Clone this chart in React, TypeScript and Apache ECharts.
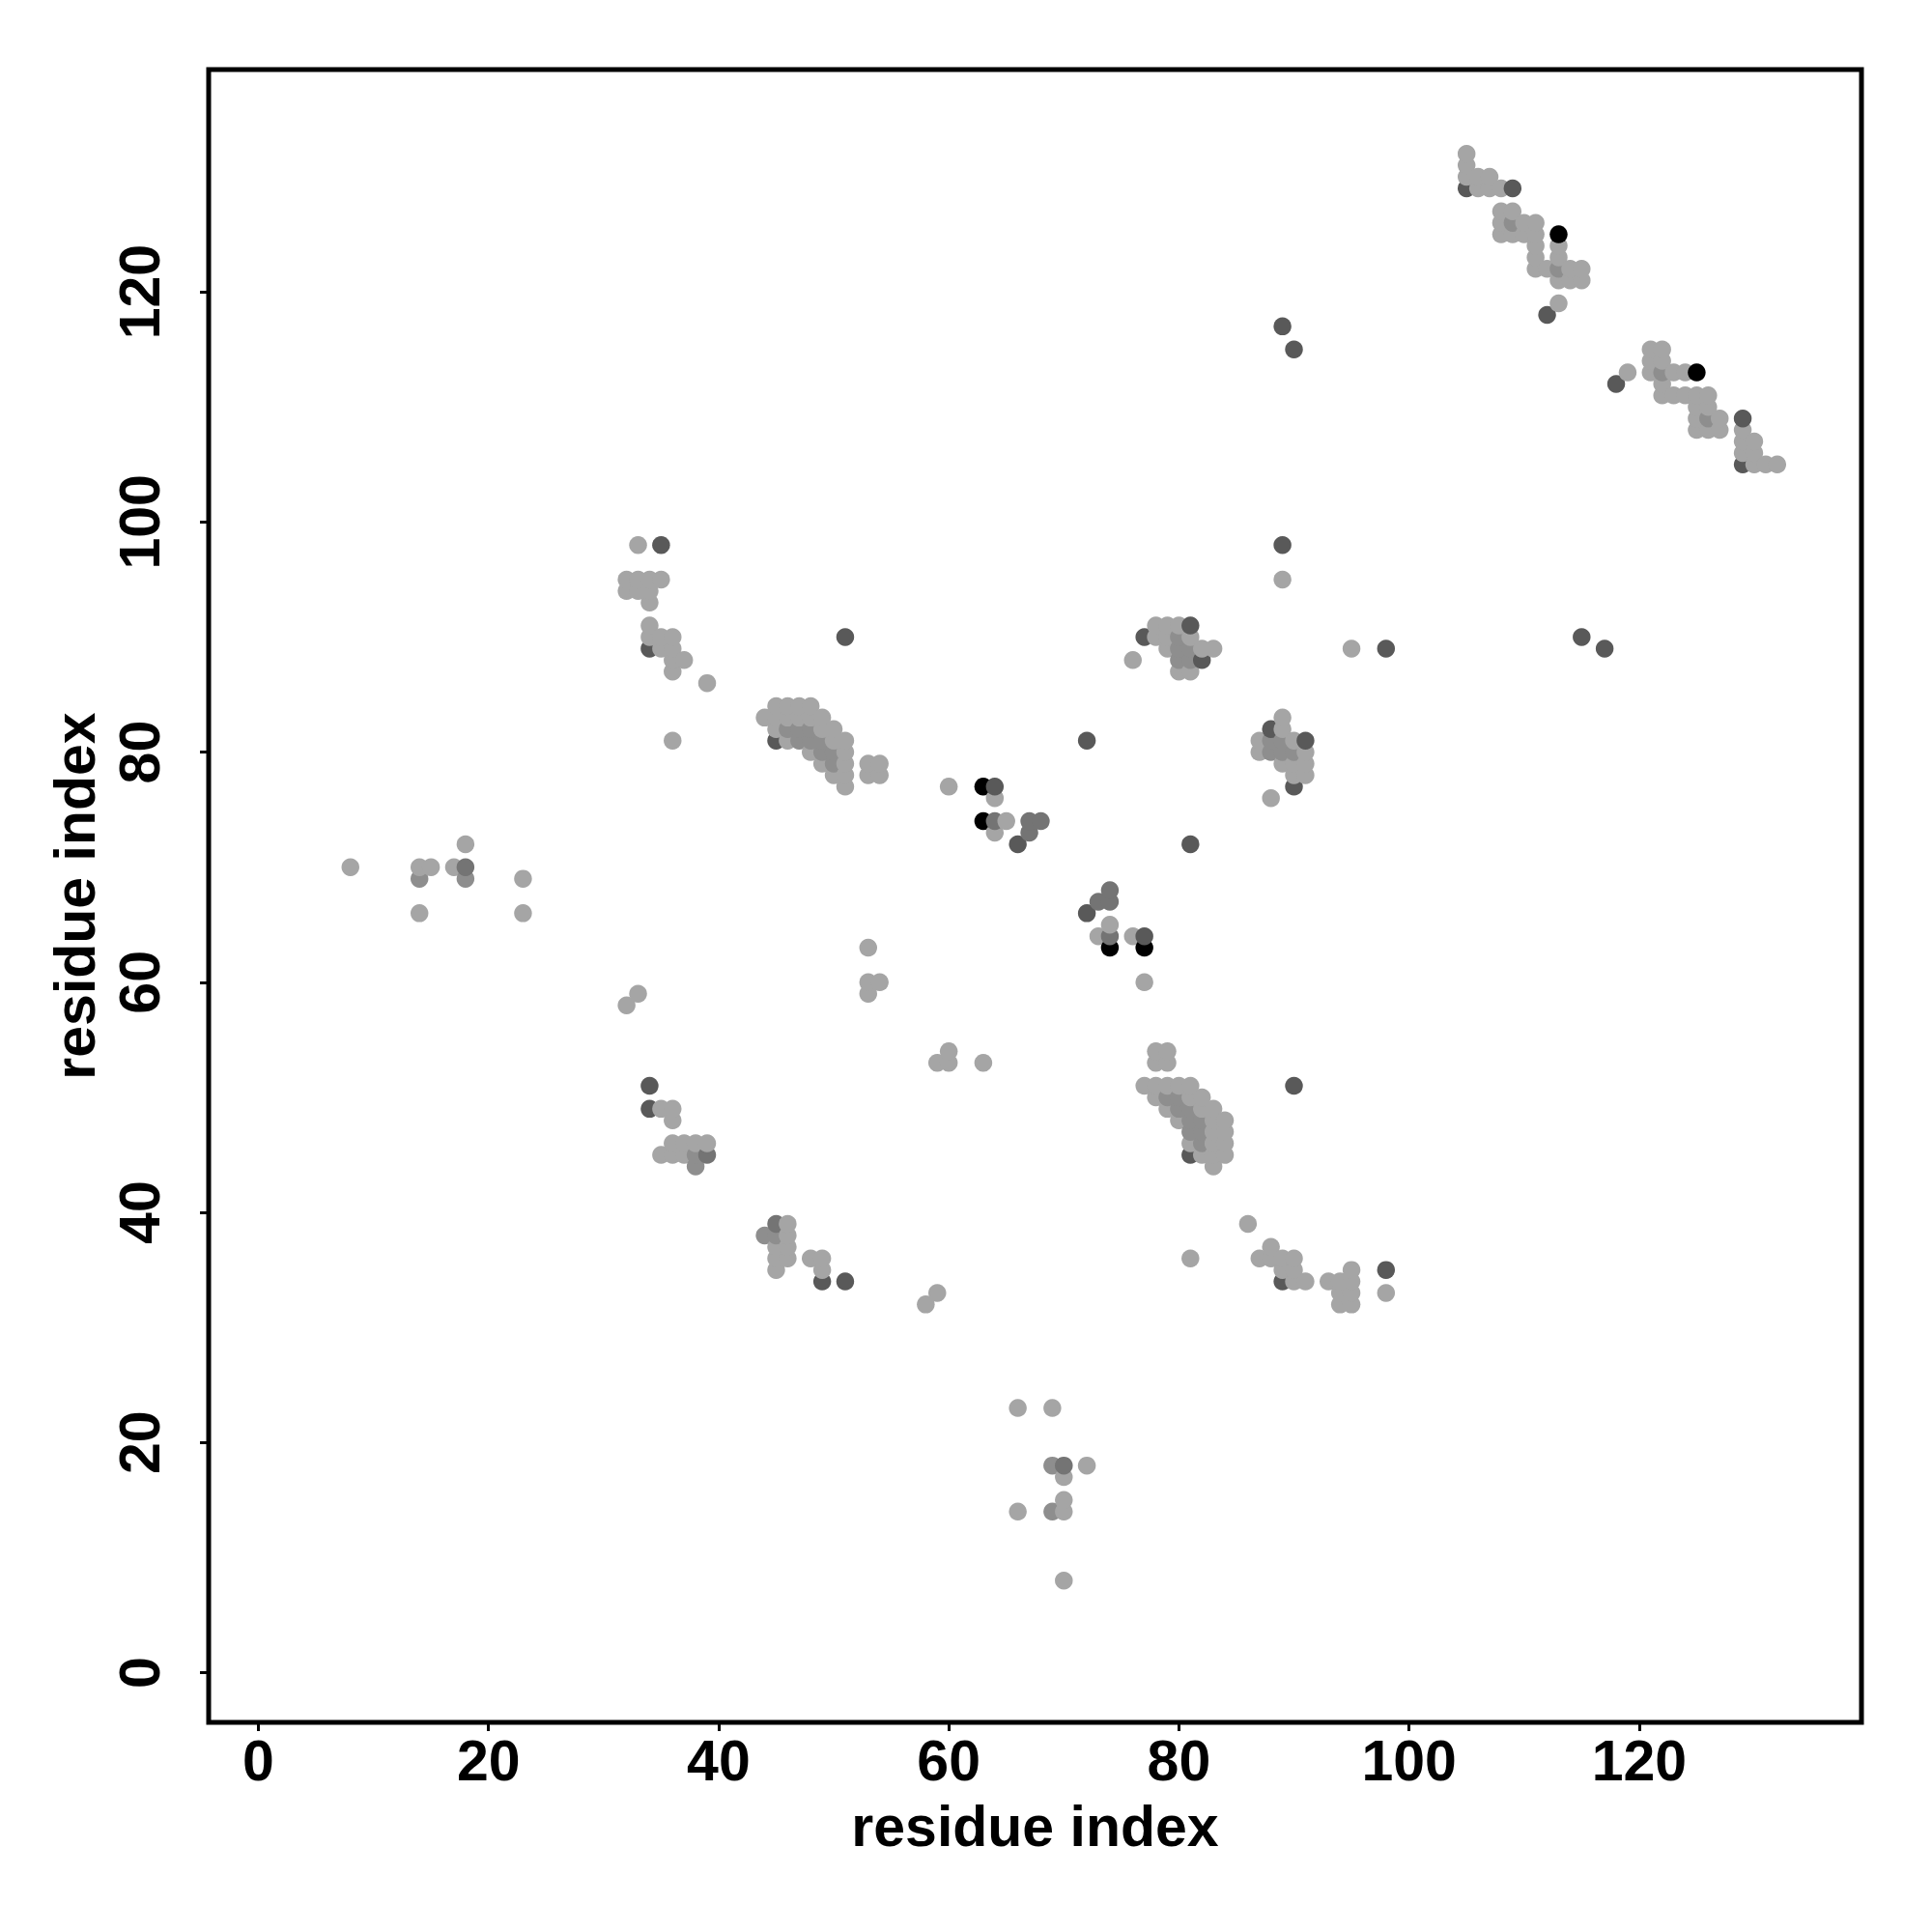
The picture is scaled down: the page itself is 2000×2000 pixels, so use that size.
import React, { useEffect, useRef } from "react";
import * as echarts from "echarts";

// Contact pairs (i < j); the contact map is symmetric, each pair is drawn at (i, j) and (j, i).
const contactI = [
  105, 105, 105, 105, 106, 106, 107, 107, 108, 109,
  108, 108, 108, 109, 109, 109, 110, 110, 111, 111,
  111, 111, 111, 112, 113, 114, 115, 113, 114, 115,
  113, 113, 113, 113, 112,
  8, 14, 14, 14, 15, 17, 18, 18, 18, 23, 23,
  32, 33, 33, 35,
  32, 33, 34, 35, 32, 33, 34, 34, 34, 34, 35, 36, 34, 35, 36, 36, 37, 36, 39, 36,
  44, 45, 45, 45, 45, 46, 46, 46, 46, 47, 47, 47, 47, 48, 48, 48, 48, 48, 49, 49, 49, 49, 49,
  50, 50, 50, 50, 50, 51, 51, 51, 51, 51, 53, 53, 54, 54,
  51, 53, 53, 54, 53,
  60, 63, 64, 64, 63, 64, 65, 64, 67, 68, 67, 66,
  72,
  76, 77, 78, 79, 80, 81, 78, 79, 80, 81, 79, 80, 81, 82, 83, 80, 81, 82, 80, 81,
  89, 89, 89, 90,
  34, 34, 35, 36, 36, 36, 37, 38, 39, 35, 36, 37, 38, 39, 38,
];
const contactJ = [
  129, 130, 131, 132, 129, 130, 129, 130, 129, 129,
  125, 126, 127, 125, 126, 127, 125, 126, 125, 126,
  122, 123, 124, 122, 122, 122, 122, 121, 121, 121,
  123, 124, 125, 119, 118,
  70, 66, 69, 70, 70, 70, 69, 70, 72, 66, 69,
  58, 59, 98, 98,
  95, 95, 95, 95, 94, 94, 94, 93, 91, 90, 90, 90, 89, 89, 89, 88, 88, 87, 86, 81,
  83, 81, 82, 83, 84, 81, 82, 83, 84, 81, 82, 83, 84, 80, 81, 82, 83, 84, 79, 80, 81, 82, 83,
  78, 79, 80, 81, 82, 77, 78, 79, 80, 81, 78, 79, 78, 79,
  90, 59, 60, 60, 63,
  77, 77, 77, 76, 74, 74, 74, 73, 74, 74, 73, 72,
  81,
  88, 90, 90, 90, 90, 90, 91, 91, 91, 91, 89, 89, 89, 89, 89, 88, 88, 88, 87, 87,
  98, 95, 117, 115,
  51, 49, 49, 49, 48, 46, 46, 46, 46, 45, 45, 45, 45, 45, 44,
];
// grey level of each contact: 1 = light grey ... 5 = black
const contactLevel = [
  4, 1, 1, 1, 1, 1, 1, 1, 1, 4,
  1, 1, 1, 1, 2, 1, 1, 1, 1, 1,
  1, 1, 1, 1, 2, 1, 1, 1, 1, 1,
  1, 1, 5, 1, 4,
  1, 1, 2, 1, 1, 1, 2, 3, 1, 1, 1,
  1, 1, 1, 4,
  1, 1, 1, 1, 1, 1, 1, 1, 1, 1, 1, 1, 4, 1, 1, 1, 1, 1, 1, 1,
  1, 4, 1, 1, 1, 1, 2, 1, 1, 2, 2, 1, 1, 1, 2, 2, 1, 1, 1, 2, 2, 1, 1,
  1, 2, 2, 1, 1, 1, 1, 1, 1, 1, 1, 1, 1, 1,
  4, 1, 1, 1, 1,
  1, 5, 4, 1, 5, 3, 1, 1, 3, 3, 3, 4,
  4,
  1, 4, 1, 1, 2, 1, 1, 1, 1, 4, 1, 2, 2, 1, 1, 2, 2, 4, 1, 1,
  4, 1, 4, 4,
  4, 4, 1, 1, 1, 1, 1, 1, 1, 1, 1, 1, 2, 3, 2,
];
const levelColors = ["#a5a5a5", "#8e8e8e", "#747474", "#595959", "#000000"];
const tickValues = [0, 20, 40, 60, 80, 100, 120];
const axisTitle = "residue index";
const axisMin = -4.32;
const axisMax = 139.32;

export default function App() {
  const ref = useRef<HTMLDivElement>(null);
  useEffect(() => {
    if (!ref.current) return;
    const chart = echarts.init(ref.current, null, { renderer: "svg" });
    const points: number[][] = [];
    for (let k = 0; k < contactI.length; k++) {
      points.push([contactI[k], contactJ[k], contactLevel[k]]);
      points.push([contactJ[k], contactI[k], contactLevel[k]]);
    }
    points.sort((a, b) => a[0] - b[0] || a[1] - b[1]);
    const font = {
      fontFamily: "Liberation Sans",
      fontWeight: "bold" as const,
      fontSize: 59,
      color: "#000",
    };
    const axisCommon = {
      type: "value" as const,
      min: axisMin,
      max: axisMax,
      axisLine: { show: false, onZero: false },
      splitLine: { show: false },
      axisTick: {
        show: true,
        customValues: tickValues,
        length: 9,
        lineStyle: { color: "#000", width: 3 },
      },
      name: axisTitle,
      nameLocation: "middle" as const,
      nameTextStyle: font,
    };
    chart.setOption({
      animation: false,
      backgroundColor: "#fff",
      grid: {
        left: 216,
        right: 73,
        top: 72,
        bottom: 217,
        show: true,
        borderColor: "#000",
        borderWidth: 5,
        backgroundColor: "transparent",
      },
      xAxis: {
        ...axisCommon,
        nameGap: 78,
        axisLabel: { ...font, customValues: tickValues, margin: 10 },
      },
      yAxis: {
        ...axisCommon,
        nameGap: 108,
        axisLabel: { ...font, customValues: tickValues, margin: 42, rotate: 90 },
      },
      series: [
        {
          type: "scatter",
          data: points,
          symbol: "circle",
          symbolSize: 18.5,
          itemStyle: {
            color: (p: any) => levelColors[p.value[2] - 1],
            opacity: 1,
          },
        },
      ],
    });
    return () => chart.dispose();
  }, []);
  return (
    <div
      ref={ref}
      style={{ position: "absolute", left: 0, top: 0, width: 2000, height: 2000 }}
    />
  );
}
